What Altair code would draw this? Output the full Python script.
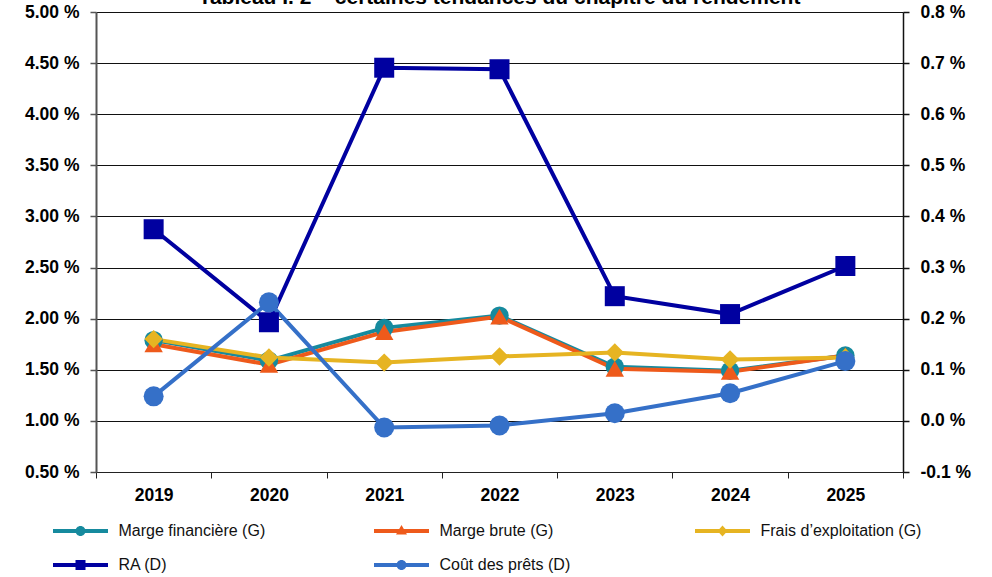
import altair as alt
import pandas as pd

FONT = "Liberation Sans"

years = ["2019", "2020", "2021", "2022", "2023", "2024", "2025"]
series_names = [
    "Marge financière (G)",
    "Marge brute (G)",
    "Frais d’exploitation (G)",
    "RA (D)",
    "Coût des prêts (D)",
]
# left axis series (in %)
marge_financiere = [1.79, 1.59, 1.91, 2.03, 1.53, 1.49, 1.64]
marge_brute = [1.75, 1.55, 1.87, 2.02, 1.51, 1.48, 1.64]
frais_exploitation = [1.80, 1.62, 1.57, 1.63, 1.67, 1.60, 1.62]
# right axis series (in %)
ra = [0.375, 0.193, 0.691, 0.688, 0.244, 0.209, 0.303]
cout_prets = [0.048, 0.232, -0.013, -0.009, 0.015, 0.054, 0.117]

left_ticks = [0.5, 1.0, 1.5, 2.0, 2.5, 3.0, 3.5, 4.0, 4.5, 5.0]
right_ticks = [-0.1, 0.0, 0.1, 0.2, 0.3, 0.4, 0.5, 0.6, 0.7, 0.8]
title_text = "Tableau I. 2 – certaines tendances du chapitre du rendement"

colors = ["#168A9E", "#EE5A1B", "#E6B422", "#0000A0", "#3570C8"]
shapes = ["circle", "triangle-up", "diamond", "square", "circle"]
legend_paths = [
    "M-5.5,-0.4L5.5,-0.4L5.5,0.4L-5.5,0.4Z M-1,0A1,1,0,1,1,1,0A1,1,0,1,1,-1,0Z",
    "M-5.5,-0.4L5.5,-0.4L5.5,0.4L-5.5,0.4Z M0,-1.2L1.1,0.7L-1.1,0.7Z",
    "M-5.5,-0.4L5.5,-0.4L5.5,0.4L-5.5,0.4Z M0,-1.1L1,0L0,1.1L-1,0Z",
    "M-5.5,-0.4L5.5,-0.4L5.5,0.4L-5.5,0.4Z M-1,-1L1,-1L1,1L-1,1Z",
    "M-5.5,-0.4L5.5,-0.4L5.5,0.4L-5.5,0.4Z M-1,0A1,1,0,1,1,1,0A1,1,0,1,1,-1,0Z",
]
# legend fills column by column (2 rows): order so it reads row by row
legend_order = [0, 3, 1, 4, 2]


def long_df(names, arrays):
    rows = []
    for k, (n, arr) in enumerate(zip(names, arrays)):
        for i, (y, v) in enumerate(zip(years, arr)):
            rows.append({"annee": y, "serie": n, "valeur": v, "ordre": k * 10 + i})
    return pd.DataFrame(rows)


left_df = long_df(series_names[:3], [marge_financiere, marge_brute, frais_exploitation])
right_df = long_df(series_names[3:], [ra, cout_prets])

x_axis = alt.Axis(
    title=None, labelAngle=0, tickBand="extent", grid=False,
    domainColor="#222", domainWidth=1, tickColor="#222", tickSize=6, tickWidth=1,
    labelPadding=8, labelFont=FONT, labelFontSize=17.5, labelFontWeight="bold",
    labelColor="#000",
)
x_enc = alt.X(
    "annee:O", sort=years,
    scale=alt.Scale(type="band", paddingInner=0, paddingOuter=0),
    axis=x_axis,
)

color_enc = alt.Color("serie:N", scale=alt.Scale(domain=series_names, range=colors), legend=None)
shape_enc = alt.Shape("serie:N", scale=alt.Scale(domain=series_names, range=shapes), legend=None)

left_y = alt.Y(
    "valeur:Q",
    scale=alt.Scale(domain=[0.5, 5.0], nice=False, zero=False),
    axis=alt.Axis(
        title=None, orient="left", values=left_ticks,
        labelExpr="format(datum.value, '.2f') + ' %'",
        grid=True, gridColor="#111", gridWidth=1,
        domainColor="#555", domainWidth=2, tickColor="#555", tickSize=6, tickWidth=1.5,
        labelPadding=11, labelFont=FONT, labelFontSize=17.5, labelFontWeight="bold",
        labelColor="#000",
    ),
)
right_y = alt.Y(
    "valeur:Q",
    scale=alt.Scale(domain=[-0.1, 0.8], nice=False, zero=False),
    axis=alt.Axis(
        title=None, orient="right", values=right_ticks,
        labelExpr="replace(format(datum.value, '.1f'), '\u2212', '-') + ' %'",
        grid=False,
        domainColor="#111", domainWidth=1.5, tickColor="#111", tickSize=6, tickWidth=1.5,
        labelPadding=11, labelFont=FONT, labelFontSize=17.5, labelFontWeight="bold",
        labelColor="#000",
    ),
)

left_base = alt.Chart(left_df).encode(x=x_enc, y=left_y, color=color_enc)
left_layer = alt.layer(
    left_base.mark_line(strokeWidth=4).encode(order="ordre:Q"),
    left_base.mark_point(filled=True, opacity=1, size=340, strokeWidth=0).encode(
        shape=shape_enc, order="ordre:Q"
    ),
)

right_base = alt.Chart(right_df).encode(x=x_enc, y=right_y, color=color_enc)
right_layer = alt.layer(
    right_base.mark_line(strokeWidth=4).encode(order="ordre:Q"),
    right_base.mark_point(filled=True, opacity=1, size=400, strokeWidth=0).encode(
        shape=shape_enc, order="ordre:Q"
    ),
)

legend_props = dict(
    title=None, orient="none", legendX=-43, legendY=511, columns=3,
    columnPadding=94, rowPadding=18, gridAlign="all",
    symbolOffset=19.5, labelOffset=30, symbolSize=100, symbolStrokeWidth=0,
    symbolOpacity=1, labelFont=FONT, labelFontSize=16, labelColor="#111",
    labelLimit=300, padding=0,
)
leg_domain = [series_names[i] for i in legend_order]
leg_colors = [colors[i] for i in legend_order]
leg_paths = [legend_paths[i] for i in legend_order]
legend_df = pd.DataFrame({"serie": series_names})
legend_layer = (
    alt.Chart(legend_df)
    .transform_filter("false")
    .mark_point(filled=True, opacity=1, size=100, strokeWidth=0)
    .encode(
        color=alt.Color("serie:N", scale=alt.Scale(domain=leg_domain, range=leg_colors),
                        legend=alt.Legend(**legend_props)),
        shape=alt.Shape("serie:N", scale=alt.Scale(domain=leg_domain, range=leg_paths),
                        legend=alt.Legend(**legend_props)),
    )
)

title_layer = (
    alt.Chart(pd.DataFrame({"t": [title_text]}))
    .mark_text(font=FONT, fontSize=21, fontWeight="bold", align="center",
               baseline="alphabetic", color="#000")
    .encode(text="t:N", x=alt.value(403.5), y=alt.value(-8))
)

chart = (
    alt.layer(left_layer, right_layer, legend_layer, title_layer)
    .resolve_scale(y="independent", shape="independent", color="independent")
    .properties(
        width=807, height=460,
        padding={"left": 96, "top": 12, "right": 89, "bottom": 105},
        autosize=alt.AutoSizeParams(type="none"),
        background="white",
    )
    .configure_view(stroke=None)
)

chart.save("out.html", embed_options={"renderer": "svg", "actions": False})
